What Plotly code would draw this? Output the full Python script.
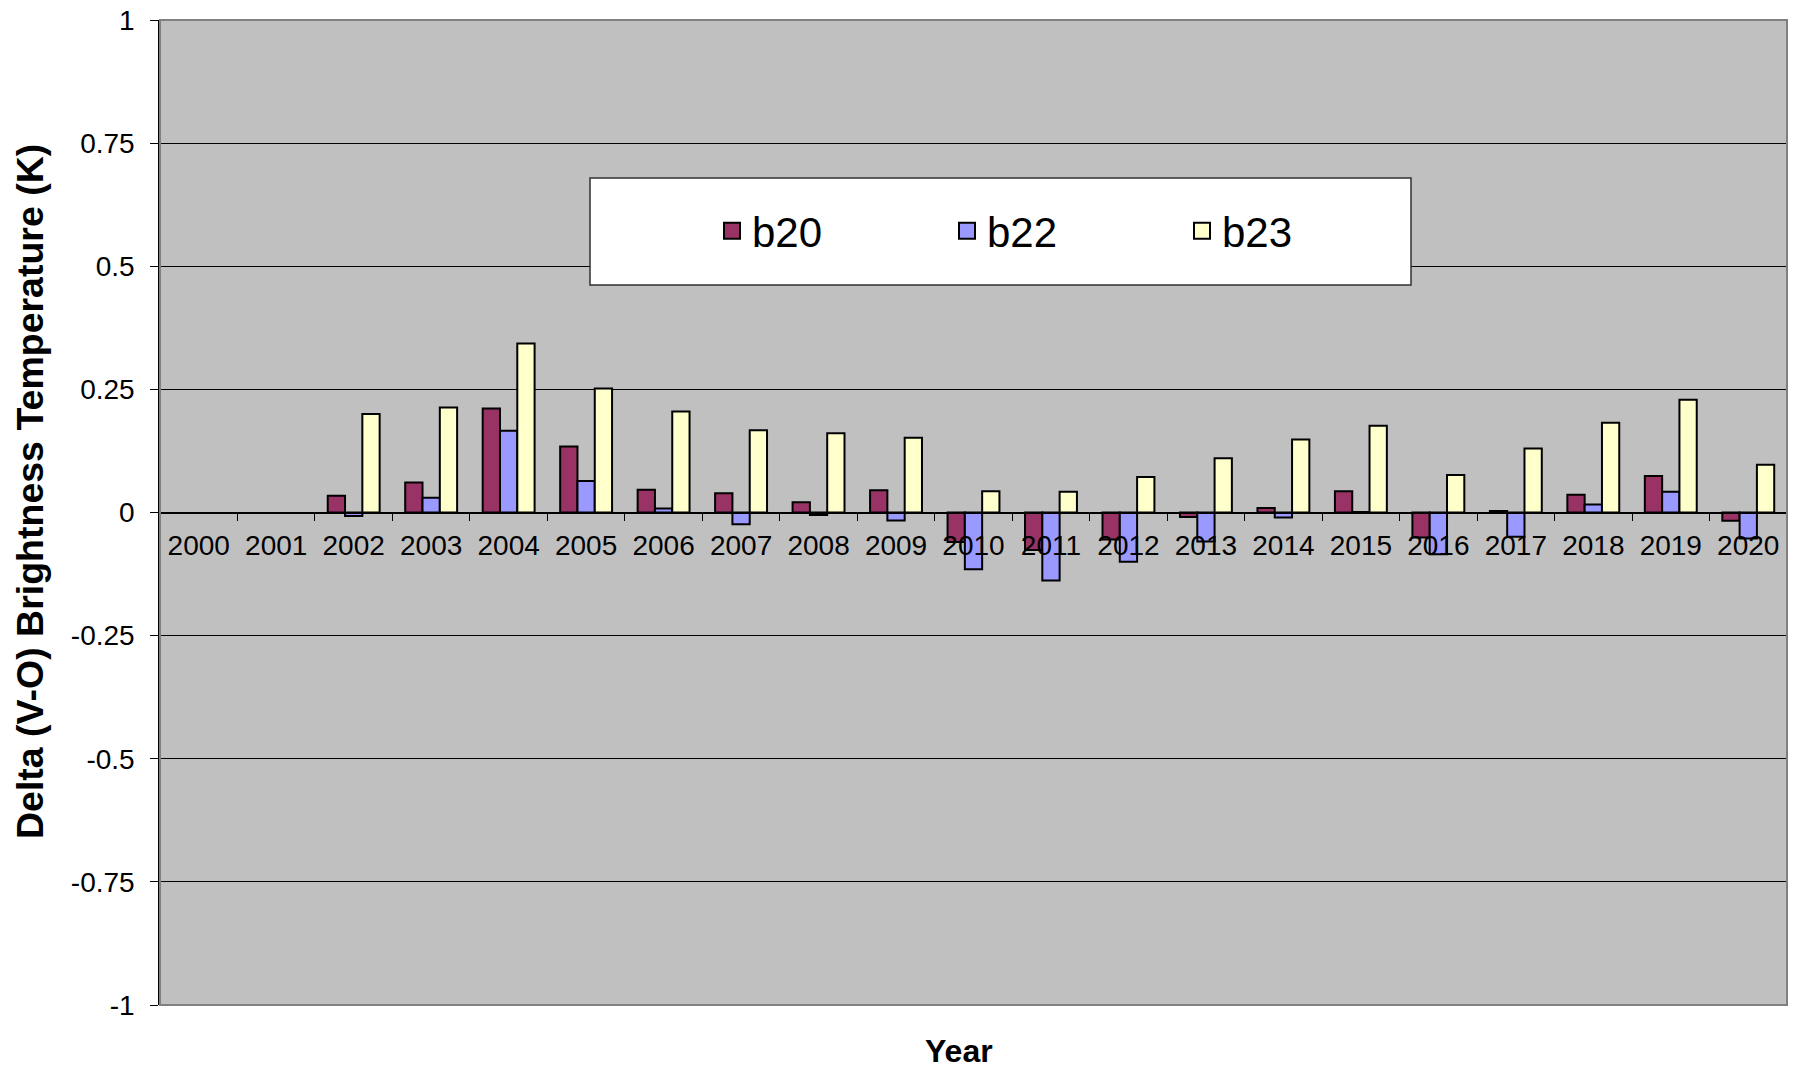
import plotly.graph_objects as go

# Yearly mean delta (V-O) brightness temperature per band, K
years = [str(y) for y in range(2000, 2021)]
b20 = [None, None, 0.034, 0.061, 0.211, 0.134, 0.046, 0.039, 0.021, 0.045,
       -0.060, -0.076, -0.055, -0.009, 0.009, 0.043, -0.051, 0.003, 0.036, 0.074, -0.017]
b22 = [None, None, -0.007, 0.030, 0.166, 0.064, 0.008, -0.024, -0.005, -0.016,
       -0.115, -0.138, -0.100, -0.059, -0.010, 0.001, -0.085, -0.049, 0.016, 0.042, -0.053]
b23 = [None, None, 0.200, 0.213, 0.343, 0.252, 0.205, 0.167, 0.161, 0.152,
       0.043, 0.042, 0.072, 0.110, 0.148, 0.176, 0.076, 0.130, 0.182, 0.229, 0.097]

y_ticks = [1, 0.75, 0.5, 0.25, 0, -0.25, -0.5, -0.75, -1]
y_tick_labels = ["1", "0.75", "0.5", "0.25", "0", "-0.25", "-0.5", "-0.75", "-1"]

series = [("b20", b20, "#993366"), ("b22", b22, "#9999FF"), ("b23", b23, "#FFFFCC")]

FONT = "Liberation Sans, Arial, sans-serif"

fig = go.Figure()
for name, vals, color in series:
    fig.add_trace(go.Bar(
        x=years, y=vals, name=name, showlegend=False,
        marker=dict(color=color, line=dict(color="black", width=2)),
    ))
# legend keys drawn as larger swatches than the default bar key
for name, vals, color in series:
    fig.add_trace(go.Scatter(
        x=[None], y=[None], name=name, mode="markers",
        marker=dict(symbol="square", size=16, color=color,
                    line=dict(color="black", width=2)),
    ))

W, H = 1799, 1068
ML, MR, MT, MB = 160, 12, 20, 63
pw = W - ML - MR
ph = H - MT - MB


def px_x(x):
    return (x - ML) / pw


def px_y(y):
    return (H - MB - y) / ph


fig.update_layout(
    width=W, height=H,
    margin=dict(l=ML, r=MR, t=MT, b=MB, autoexpand=False),
    paper_bgcolor="white",
    plot_bgcolor="#C0C0C0",
    barmode="group",
    bargap=0.33,
    bargroupgap=0,
    font=dict(family=FONT, color="black", size=28),
    showlegend=True,
    legend=dict(
        orientation="h",
        x=px_x(712), y=px_y(231),
        xanchor="left", yanchor="middle",
        bgcolor="rgba(0,0,0,0)",
        borderwidth=0,
        entrywidth=190, entrywidthmode="pixels",
        font=dict(size=42, family=FONT),
        itemsizing="trace",
    ),
    xaxis=dict(
        type="category",
        anchor="free", position=0.5,
        automargin=False,
        showline=True, linecolor="black", linewidth=1.5,
        ticks="outside", ticklen=8, tickcolor="black", tickwidth=1,
        tickson="boundaries",
        showgrid=False,
        tickfont=dict(size=28, family=FONT),
        ticklabelstandoff=8,
    ),
    yaxis=dict(
        range=[-1, 1],
        automargin=False,
        tickvals=y_ticks, ticktext=y_tick_labels,
        ticks="outside", ticklen=8, tickcolor="black", tickwidth=1,
        showline=True, linecolor="black", linewidth=1.5,
        showgrid=True, gridcolor="black", gridwidth=1,
        zeroline=True, zerolinecolor="black", zerolinewidth=1.5,
        tickfont=dict(size=28, family=FONT),
        ticklabelstandoff=10,
    ),
    shapes=[
        # plot-area frame
        dict(type="rect", xref="paper", yref="paper", x0=0, x1=1, y0=0, y1=1,
             line=dict(color="#808080", width=2), layer="above"),
        # legend box
        dict(type="rect", xref="paper", yref="paper",
             x0=px_x(590), x1=px_x(1411), y0=px_y(285), y1=px_y(178),
             fillcolor="white", line=dict(color="#303030", width=1.5), layer="above"),
    ],
    annotations=[
        dict(text="Delta (V-O) Brightness Temperature (K)", textangle=-90,
             xref="paper", yref="paper", x=px_x(30), y=px_y(492),
             xanchor="center", yanchor="middle", showarrow=False,
             font=dict(size=37.5, family=FONT, weight=700)),
        dict(text="Year", xref="paper", yref="paper", x=px_x(959), y=px_y(1051),
             xanchor="center", yanchor="middle", showarrow=False,
             font=dict(size=32, family=FONT, weight=700)),
    ],
)

fig.write_html("out.html")
